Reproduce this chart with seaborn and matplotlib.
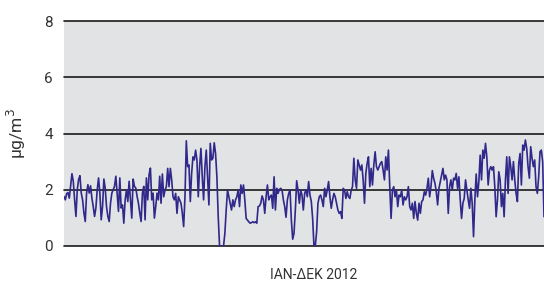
import numpy as np
import pandas as pd
import matplotlib
matplotlib.use('Agg')
import matplotlib.pyplot as plt
import seaborn as sns

# daily values (μg/m³), Jan -> Dec 2012
jan_mar = [1.76, 1.64, 1.86, 1.90, 1.70, 2.12, 2.57, 2.30, 1.64, 1.05, 2.00, 2.36, 2.50, 1.88,
           1.64, 1.17, 0.87, 1.88, 2.18, 1.88, 2.14, 1.70, 1.40, 1.05, 1.35, 2.00, 2.42, 1.88,
           0.93, 1.40, 2.38, 2.06, 1.40, 1.05, 0.87, 1.52, 1.88, 2.00, 2.12, 2.48, 1.88, 1.23,
           2.42, 1.35, 1.46, 0.81, 1.64, 2.00, 1.58, 2.30, 1.64, 0.99, 2.38, 2.12, 2.06, 1.76,
           1.52, 1.17, 0.87, 1.88, 2.12, 0.93, 2.42, 1.64, 2.54, 2.77, 1.64, 1.88, 0.99, 1.40,
           1.88, 1.64, 2.48, 1.52]
mar_jun = [2.56, 1.75, 1.99, 2.11, 2.76, 2.11, 2.76, 2.35, 1.75, 1.64, 1.87, 1.16, 1.75, 1.64,
           1.52, 1.16, 0.69, 1.75, 3.74, 2.82, 2.88, 1.58, 2.58, 3.17, 3.06, 3.41, 3.06, 1.75,
           2.82, 3.47, 2.46, 1.64, 2.82, 3.41, 2.46, 1.46, 3.65, 3.06, 3.12, 3.67, 3.29, 2.46,
           1.04, 0.0, 0.0, 0.0, 0.0, 0.45, 1.28, 1.99, 1.75, 1.52, 1.28, 1.64, 1.40, 1.64,
           1.75, 1.99, 1.40, 2.17, 1.87, 2.17, 1.64, 0.98, 0.92, 0.86, 0.81, 0.83, 0.86, 0.83]
jun_aug = [0.86, 0.81, 1.40, 1.42, 1.52, 1.78, 1.64, 1.16, 1.75, 2.17, 1.64, 1.75, 1.81, 1.34,
           2.46, 1.28, 2.05, 1.87, 2.01, 2.05, 1.99, 1.64, 1.40, 1.02, 1.64, 1.87, 1.99, 0.92,
           0.24, 0.45, 1.28, 2.32, 1.99, 1.52, 1.99, 1.81, 1.28, 1.87, 1.99, 1.75, 2.29, 1.81,
           1.58, 0.98, 0.0, 0.0, 0.51, 1.52, 1.75, 1.81, 1.64, 1.40, 2.05, 1.75, 1.99, 2.29,
           1.75, 1.34, 1.64, 1.87, 1.75, 1.52, 1.28, 1.16, 1.22, 0.98, 2.05, 1.99, 1.69, 1.93,
           1.75, 1.69, 1.99]
sep_oct = [2.11, 3.12, 2.35, 2.05, 3.06, 2.88, 2.70, 2.88, 2.35, 1.52, 2.58, 2.94, 3.17, 2.11,
           2.76, 2.17, 2.88, 3.35, 2.82, 2.70, 2.82, 2.94, 3.00, 2.70, 2.35, 3.17, 2.70, 3.41,
           2.11, 0.98, 1.99, 2.11, 1.75, 1.99, 1.40, 1.81, 1.75, 1.99, 1.46, 1.75, 1.64, 1.75,
           2.11, 1.40, 1.28, 1.52, 0.98, 1.58, 1.16, 0.92, 1.52, 1.16, 1.58, 1.64, 1.93, 1.81,
           2.05, 2.41, 1.75, 2.11, 2.68, 2.41, 2.23, 1.93, 1.46, 2.05, 2.29, 2.52, 2.76, 2.35,
           2.52, 2.35]
nov_dec = [1.16, 2.11, 2.35, 1.99, 2.41, 2.35, 2.58, 2.05, 2.46, 1.64, 0.98, 1.52, 1.69, 2.35,
           1.99, 1.64, 1.34, 2.05, 1.52, 0.33, 1.64, 2.56, 1.75, 2.29, 3.23, 2.35, 3.41, 3.12,
           3.65, 3.17, 2.17, 2.70, 2.82, 2.70, 2.82, 2.11, 1.04, 1.64, 2.64, 2.35, 1.40, 1.87,
           1.04, 2.35, 3.17, 1.87, 3.17, 2.82, 2.35, 3.00, 2.35, 1.87, 1.58, 2.94, 3.29, 2.17,
           3.59, 3.41, 3.77, 3.47, 2.82, 2.41, 3.53, 3.12, 2.82, 3.06, 2.11, 1.87, 2.46, 3.35,
           3.41, 3.00, 1.04]

values = jan_mar + mar_jun + jun_aug + sep_oct + nov_dec
df = pd.DataFrame({'day': np.arange(len(values)), 'conc': values})

sns.set_style('white')
plt.rcParams['font.family'] = ['Roboto', 'DejaVu Sans']

fig = plt.figure(figsize=(5.44, 2.85), dpi=100)
ax = fig.add_axes([0.1176, 0.137, 0.8824, 0.789])
ax.set_facecolor('#e2e3e4')

sns.lineplot(data=df, x='day', y='conc', color='#30288a', linewidth=1.2, ax=ax)

ax.set_xlim(0, len(values) - 1)
ax.set_ylim(0, 8)
ax.set_yticks([0, 2, 4, 6, 8])
ax.set_xticks([])
for y in [0, 2, 4, 6, 8]:
    ax.axhline(y, color='#1a1a1a', linewidth=1.2, zorder=1, clip_on=False)
for s in ax.spines.values():
    s.set_visible(False)
ax.tick_params(axis='y', length=0, pad=8, labelsize=11, labelcolor='#333333')

ax.set_ylabel('μg/m$^3$', fontsize=12.5, color='#333333')
ax.yaxis.set_label_coords(-0.075, 0.5)
ax.set_xlabel('ΙΑΝ-ΔΕΚ 2012', fontsize=10, color='#333333')
ax.xaxis.set_label_coords(0.52, -0.1)

fig.savefig('out.png', dpi=100)
